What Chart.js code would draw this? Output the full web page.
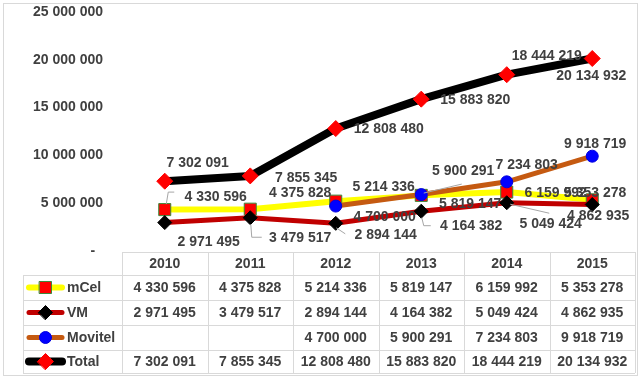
<!DOCTYPE html>
<html>
<head>
<meta charset="utf-8">
<script src="https://cdn.jsdelivr.net/npm/chart.js@4/dist/chart.umd.min.js"></script>
<style>
	html, body { margin: 0; padding: 0; background: #fff; }
	#wrap { width: 640px; height: 378px; }
</style>
</head>
<body>
<div id="wrap"><canvas id="chart-subscribers"></canvas></div>
<script>
// Chart data
const YEARS = ["2010", "2011", "2012", "2013", "2014", "2015"];
const MCEL = [4330596, 4375828, 5214336, 5819147, 6159992, 5353278];
const VM = [2971495, 3479517, 2894144, 4164382, 5049424, 4862935];
const MOVITEL = [null, null, 4700000, 5900291, 7234803, 9918719];
const TOTAL = [7302091, 7855345, 12808480, 15883820, 18444219, 20134932];
const Y_TICKS = [0, 5000000, 10000000, 15000000, 20000000, 25000000];

const TEXT_COLOR = "#404040";
const FONT = "bold 14px 'Liberation Sans', Arial, sans-serif";
const GRID_COLOR = "#D9D9D9";

// label placement relative to the point (Excel put them all over the place)
const LABEL_POS = [
	// mCel
	{ off: [[51, -12], [50, -16], [48, -14], [49, 9], [49, 1], [3, -7]],
	  lead: { 0: [[1, -6], [3, -18], [9, -18]] } },
	// VM
	{ off: [[44, 20], [50, 20], [50, 12], [50, 15], [44, 21], [6, 12]],
	  lead: { 1: [[0, 6], [1, 19], [11, 19]], 2: [[0, 4], [9, 10]], 3: [[0, 6], [2, 14], [9, 14]], 4: [[3, 1], [42, 10]] } },
	// Movitel
	{ off: [null, null, [49, 11], [42, -23], [20, -17], [3, -12]],
	  lead: { 3: [[2, -2], [40, -11]] } },
	// Total
	{ off: [[33, -18], [56, 2], [53, 1], [54, 1], [40, -19], [-1, 18]], lead: {} },
];

const fmt = (v) => String(v).replace(/\B(?=(\d{3})+(?!\d))/g, " ");

const drawMarker = (ctx, ds, x, y) => {
	ctx.save();
	ctx.fillStyle = ds.pointBackgroundColor;
	ctx.strokeStyle = ds.pointBorderColor;
	ctx.lineWidth = ds.pointBorderWidth;
	Chart.helpers.drawPoint(ctx, { pointStyle: ds.pointStyle, radius: ds.pointRadius, rotation: 0, borderWidth: ds.pointBorderWidth }, x, y);
	ctx.restore();
};

// Chart frame, labels and data table
const tablePlugin = {
	id: "dataTable",
	beforeDraw(chart) {
		const { ctx } = chart;
		ctx.save();
		ctx.fillStyle = "#fff";
		ctx.fillRect(0, 0, chart.width, chart.height);
		ctx.strokeStyle = GRID_COLOR;
		ctx.lineWidth = 1;
		ctx.strokeRect(3.5, 3.5, 634, 372);
		ctx.restore();
	},
	afterDatasetsDraw(chart) {
		const { ctx } = chart;
		ctx.save();
		ctx.font = FONT;
		ctx.fillStyle = TEXT_COLOR;
		ctx.textAlign = "center";
		ctx.textBaseline = "middle";
		chart.data.datasets.forEach((ds, i) => {
			const meta = chart.getDatasetMeta(i);
			const pos = LABEL_POS[i];
			meta.data.forEach((pt, j) => {
				if (ds.data[j] === null) return;
				const lead = pos.lead[j];
				if (lead) {
					ctx.strokeStyle = "#A6A6A6";
					ctx.lineWidth = 1;
					ctx.beginPath();
					lead.forEach(([dx, dy], k) => {
						const f = k === 0 ? "moveTo" : "lineTo";
						ctx[f](pt.x + dx + 0.5, pt.y + dy + 0.5);
					});
					ctx.stroke();
				}
			});
		});
		chart.data.datasets.forEach((ds, i) => {
			const meta = chart.getDatasetMeta(i);
			const pos = LABEL_POS[i];
			meta.data.forEach((pt, j) => {
				if (ds.data[j] === null) return;
				const [dx, dy] = pos.off[j];
				ctx.fillText(fmt(ds.data[j]), pt.x + dx, pt.y + dy);
			});
		});
		ctx.restore();
	},
	afterDraw(chart) {
		const { ctx, chartArea } = chart;
		const xs = chart.scales.x;
		const left = chartArea.left;
		const right = chartArea.right;
		const legendLeft = 23;
		const rowTop = [252, 275, 300, 325, 350, 373];

		ctx.save();
		ctx.strokeStyle = GRID_COLOR;
		ctx.lineWidth = 1;
		ctx.beginPath();
		rowTop.forEach((y, k) => {
			ctx.moveTo(k === 0 ? left : legendLeft, y + 0.5);
			ctx.lineTo(right, y + 0.5);
		});
		ctx.moveTo(legendLeft + 0.5, rowTop[1]);
		ctx.lineTo(legendLeft + 0.5, rowTop[5]);
		const colW = (right - left) / YEARS.length;
		for (let k = 0; k <= YEARS.length; k++) {
			const x = Math.round(left + k * colW) + 0.5;
			ctx.moveTo(x, rowTop[0]);
			ctx.lineTo(x, rowTop[5]);
		}
		ctx.stroke();

		ctx.font = FONT;
		ctx.fillStyle = TEXT_COLOR;
		ctx.textBaseline = "middle";
		ctx.textAlign = "center";
		YEARS.forEach((yr, j) => {
			ctx.fillText(yr, xs.getPixelForValue(j), (rowTop[0] + rowTop[1]) / 2 + 1);
		});

		chart.data.datasets.forEach((ds, i) => {
			const cy = (rowTop[i + 1] + rowTop[i + 2]) / 2;
			// legend key
			ctx.strokeStyle = ds.borderColor;
			ctx.lineWidth = ds.borderWidth;
			ctx.lineCap = "round";
			ctx.beginPath();
			ctx.moveTo(29, cy);
			ctx.lineTo(62, cy);
			ctx.stroke();
			drawMarker(ctx, ds, 45.5, cy);
			ctx.fillStyle = TEXT_COLOR;
			ctx.textAlign = "left";
			ctx.fillText(ds.label, 67, cy + 1);
			ctx.textAlign = "center";
			ds.data.forEach((v, j) => {
				if (v === null) return;
				ctx.fillText(fmt(v), xs.getPixelForValue(j), cy + 1);
			});
		});
		ctx.restore();
	},
};

const CHART_DATA = {
	labels: YEARS,
	datasets: [
		{
			label: "mCel",
			data: MCEL,
			order: 3,
			borderColor: "#FFFF00",
			borderWidth: 6,
			pointStyle: "rect",
			pointRadius: 8.5,
			pointBackgroundColor: "#FF0000",
			pointBorderColor: "#3A8A3A",
			pointBorderWidth: 1,
		},
		{
			label: "VM",
			data: VM,
			order: 2,
			borderColor: "#C00000",
			borderWidth: 5,
			pointStyle: "rectRot",
			pointRadius: 7,
			pointBackgroundColor: "#000000",
			pointBorderColor: "#000000",
			pointBorderWidth: 1,
		},
		{
			label: "Movitel",
			data: MOVITEL,
			order: 1,
			borderColor: "#C55A11",
			borderWidth: 5,
			pointStyle: "circle",
			pointRadius: 6,
			pointBackgroundColor: "#0000FF",
			pointBorderColor: "#0000E0",
			pointBorderWidth: 1,
		},
		{
			label: "Total",
			data: TOTAL,
			order: 0,
			borderColor: "#000000",
			borderWidth: 8,
			pointStyle: "rectRot",
			pointRadius: 8,
			pointBackgroundColor: "#FF0000",
			pointBorderColor: "#FF0000",
			pointBorderWidth: 1,
		},
	],
};

const CHART_CONFIG = {
	type: "line",
	data: CHART_DATA,
	options: {
		responsive: false,
		animation: false,
		devicePixelRatio: 1,
		layout: {
			autoPadding: false,
			padding: { left: 3, right: 5, top: 12, bottom: 127 },
		},
		elements: {
			line: { tension: 0, borderCapStyle: "round", borderJoinStyle: "round" },
		},
		scales: {
			x: {
				display: false,
				offset: true,
			},
			y: {
				min: 0,
				max: 25000000,
				afterFit: (scale) => {
					scale.width = 119;
				},
				afterBuildTicks: (scale) => {
					scale.ticks = Y_TICKS.map((v) => ({ value: v }));
				},
				border: { display: false },
				// invisible tick marks only to push the labels left of the plot
				grid: { display: true, drawOnChartArea: false, drawTicks: true, tickLength: 19, color: "rgba(0,0,0,0)" },
				ticks: {
					padding: 0,
					color: TEXT_COLOR,
					font: { family: "'Liberation Sans', Arial, sans-serif", size: 14, weight: "bold" },
					callback: (v) => (v === 0 ? "-  " : fmt(v)),
				},
			},
		},
		plugins: {
			legend: { display: false },
			tooltip: { enabled: false },
		},
	},
	plugins: [tablePlugin],
};

const canvas = document.getElementById("chart-subscribers");
canvas.width = 640;
canvas.height = 378;
new Chart(canvas, CHART_CONFIG);
</script>
</body>
</html>
